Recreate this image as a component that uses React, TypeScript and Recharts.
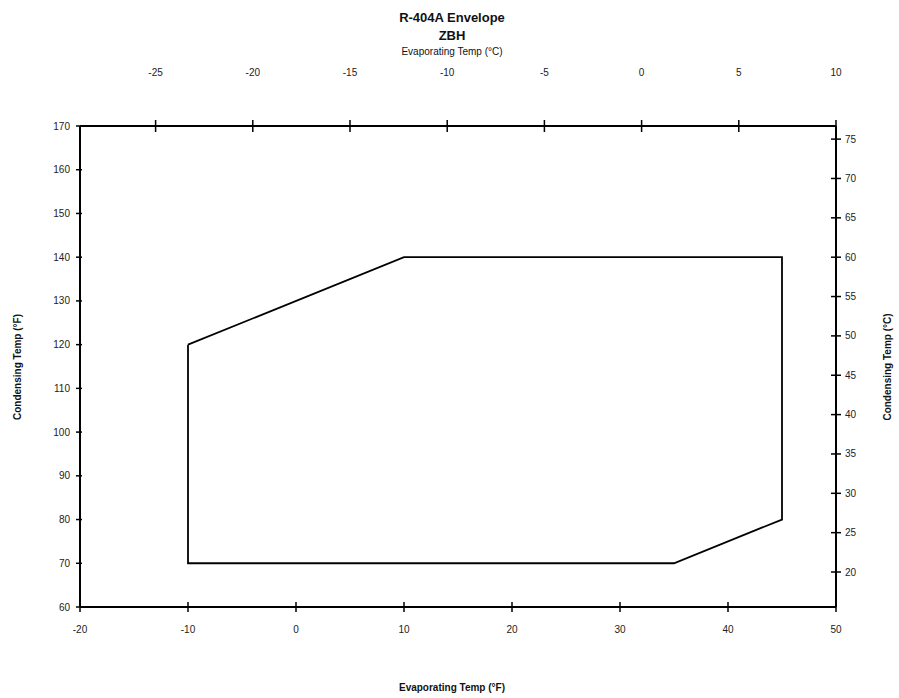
import { ComposedChart, Scatter, XAxis, YAxis } from "recharts";

// envelope outline (°F)
const evapF = [-10, 10, 45, 45, 35, -10, -10];
const condF = [120, 140, 140, 80, 70, 70, 120];

const bottomTicks = [-20, -10, 0, 10, 20, 30, 40, 50];
const topTicks = [-25, -20, -15, -10, -5, 0, 5, 10];
const leftTicks = [60, 70, 80, 90, 100, 110, 120, 130, 140, 150, 160, 170];
const rightTicks = [20, 25, 30, 35, 40, 45, 50, 55, 60, 65, 70, 75];

const toC = (f: number) => ((f - 32) * 5) / 9;

const envelope = evapF.map((x, i) => ({ x, y: condF[i] }));
// same outline in °C, only there so the secondary axes get drawn
const envelopeC = evapF.map((x, i) => ({ x: toC(x), y: toC(condF[i]) }));

const FONT = "'Liberation Sans', Arial, sans-serif";
const tickText = { fontSize: 10, fill: "#222", fontFamily: FONT };

function BottomTick(props: any) {
  const { x, y, payload } = props;
  const ay = y - 19;
  return (
    <g>
      <line x1={x} y1={ay - 5} x2={x} y2={ay + 5} stroke="#000" strokeWidth={1.5} />
      <text x={x} y={y} dy="0.71em" textAnchor="middle" {...tickText}>{payload.value}</text>
    </g>
  );
}

function TopTick(props: any) {
  const { x, y, payload } = props;
  const ay = y + 50;
  return (
    <g>
      <line x1={x} y1={ay - 6} x2={x} y2={ay + 6} stroke="#000" strokeWidth={1.5} />
      <text x={x} y={y} textAnchor="middle" {...tickText}>{payload.value}</text>
    </g>
  );
}

function LeftTick(props: any) {
  const { x, y, payload } = props;
  const ax = x + 10;
  return (
    <g>
      <line x1={ax - 4} y1={y} x2={ax + 2} y2={y} stroke="#000" strokeWidth={1.5} />
      <text x={x} y={y} dy="0.35em" textAnchor="end" {...tickText}>{payload.value}</text>
    </g>
  );
}

function RightTick(props: any) {
  const { x, y, payload } = props;
  const ax = x - 9;
  return (
    <g>
      <line x1={ax - 5} y1={y} x2={ax + 5} y2={y} stroke="#000" strokeWidth={1.5} />
      <text x={x} y={y} dy="0.35em" textAnchor="start" {...tickText}>{payload.value}</text>
    </g>
  );
}

export default function App() {
  return (
    <div style={{ position: "absolute", left: 0, top: 0, width: 899, height: 698, background: "#fff" }}>
      <ComposedChart
        width={899}
        height={698}
        margin={{ top: 56, right: 20, bottom: 31, left: 20 }}
      >
        <XAxis
          xAxisId="f"
          type="number"
          dataKey="x"
          domain={[-20, 50]}
          ticks={bottomTicks}
          allowDataOverflow
          height={60}
          tickSize={5}
          tickMargin={14}
          tickLine={false}
          axisLine={{ stroke: "#000", strokeWidth: 2 }}
          tick={<BottomTick />}
        />
        <XAxis
          xAxisId="c"
          orientation="top"
          type="number"
          dataKey="x"
          domain={[toC(-20), toC(50)]}
          ticks={topTicks}
          allowDataOverflow
          height={70}
          tickSize={5}
          tickMargin={45}
          tickLine={false}
          axisLine={{ stroke: "#000", strokeWidth: 2 }}
          tick={<TopTick />}
        />
        <YAxis
          yAxisId="f"
          type="number"
          dataKey="y"
          domain={[60, 170]}
          ticks={leftTicks}
          allowDataOverflow
          width={60}
          tickSize={5}
          tickMargin={5}
          tickLine={false}
          axisLine={{ stroke: "#000", strokeWidth: 2 }}
          tick={<LeftTick />}
        />
        <YAxis
          yAxisId="c"
          orientation="right"
          type="number"
          dataKey="y"
          domain={[toC(60), toC(170)]}
          ticks={rightTicks}
          allowDataOverflow
          width={43}
          tickSize={5}
          tickMargin={4}
          tickLine={false}
          axisLine={{ stroke: "#000", strokeWidth: 2 }}
          tick={<RightTick />}
        />
        <Scatter
          xAxisId="f"
          yAxisId="f"
          data={envelope}
          line={{ stroke: "#000", strokeWidth: 1.8 }}
          lineType="joint"
          shape={() => null}
          isAnimationActive={false}
        />
        <Scatter
          xAxisId="c"
          yAxisId="c"
          data={envelopeC}
          shape={() => null}
          isAnimationActive={false}
        />
      </ComposedChart>
      <svg
        width={899}
        height={698}
        style={{ position: "absolute", left: 0, top: 0, pointerEvents: "none" }}
      >
        <g fontFamily={FONT} fill="#111" textAnchor="middle">
          <text x={452} y={22} fontSize={13} fontWeight="bold">R-404A Envelope</text>
          <text x={452} y={40} fontSize={13} fontWeight="bold">ZBH</text>
          <text x={452} y={55} fontSize={10}>Evaporating Temp (°C)</text>
          <text x={452} y={691} fontSize={10} fontWeight="bold">Evaporating Temp (°F)</text>
          <text x={21} y={367} fontSize={10} fontWeight="bold" transform="rotate(-90 21 367)">Condensing Temp (°F)</text>
          <text x={891} y={367} fontSize={10} fontWeight="bold" transform="rotate(-90 891 367)">Condensing Temp (°C)</text>
        </g>
      </svg>
    </div>
  );
}
